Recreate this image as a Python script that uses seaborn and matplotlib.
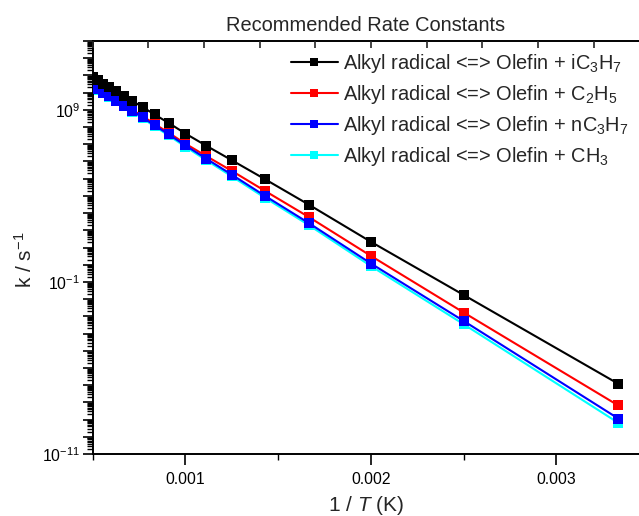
import numpy as np
import pandas as pd
import matplotlib
matplotlib.use("Agg")
import matplotlib.pyplot as plt
import matplotlib.ticker as mticker
import seaborn as sns

# ---- data ----
temperatures = [2000, 1900, 1800, 1700, 1600, 1500, 1400, 1300, 1200,
                1100, 1000, 900, 800, 700, 600, 500, 400, 300]
log_k_iC3H7 = [10.90, 10.71, 10.51, 10.30, 10.07, 9.81, 9.51, 9.16, 8.73,
               8.24, 7.62, 6.92, 6.07, 4.97, 3.48, 1.33, -1.76, -6.92]
log_k_C2H5 = [10.45, 10.25, 10.04, 9.82, 9.58, 9.31, 8.99, 8.63, 8.18,
              7.67, 7.03, 6.32, 5.45, 4.29, 2.76, 0.51, -2.78, -8.18]
log_k_nC3H7 = [10.41, 10.21, 10.00, 9.78, 9.53, 9.25, 8.93, 8.56, 8.10,
               7.58, 6.93, 6.17, 5.23, 4.00, 2.41, 0.07, -3.27, -8.94]
log_k_CH3 = [10.37, 10.17, 9.96, 9.74, 9.49, 9.20, 8.88, 8.50, 8.04,
             7.51, 6.85, 6.08, 5.13, 3.89, 2.29, -0.08, -3.46, -9.19]

labels = ["Alkyl radical <=> Olefin + iC$_3$H$_7$",
          "Alkyl radical <=> Olefin + C$_2$H$_5$",
          "Alkyl radical <=> Olefin + nC$_3$H$_7$",
          "Alkyl radical <=> Olefin + CH$_3$"]
colors = ["#000000", "#ff0000", "#0000ff", "#00ffff"]
series = [log_k_iC3H7, log_k_C2H5, log_k_nC3H7, log_k_CH3]
y_labelled_exponents = [9, -1, -11]
x_major_ticks = [0.001, 0.002, 0.003]
x_major_labels = ["0.001", "0.002", "0.003"]

# ---- style ----
sns.set_style("ticks")
plt.rcParams["font.family"] = ["Liberation Sans", "DejaVu Sans"]
plt.rcParams["mathtext.fontset"] = "custom"
plt.rcParams["mathtext.rm"] = "Liberation Sans"
plt.rcParams["mathtext.it"] = "Liberation Sans:italic"
plt.rcParams["mathtext.default"] = "regular"

fig = plt.figure(figsize=(6.39, 5.16), dpi=100)
ax = fig.add_axes([92.7 / 639, 62 / 516, 1 - 92.7 / 639, 413 / 516])

inv_T = 1.0 / np.array(temperatures, dtype=float)
frames = []
for lab, vals in zip(labels, series):
    frames.append(pd.DataFrame({"invT": inv_T, "k": 10.0 ** np.array(vals), "label": lab}))
df = pd.concat(frames, ignore_index=True)

draw_order = [3, 1, 0, 2]
zorders = {3: 2, 1: 3, 0: 5, 2: 4}
for i in draw_order:
    sub = df[df["label"] == labels[i]]
    sns.lineplot(data=sub, x="invT", y="k", ax=ax, color=colors[i],
                 marker="s", markersize=6.8, markeredgewidth=0,
                 linewidth=1.5, label=labels[i], zorder=zorders[i],
                 sort=False, legend=False)

ax.set_yscale("log")
ax.set_xlim(0.0005, 0.0005 + (639 - 92.7) / 185.5 * 0.001)
ax.set_ylim(1e-11, 1e13)

ax.xaxis.set_major_locator(mticker.FixedLocator(x_major_ticks))
ax.xaxis.set_major_formatter(mticker.FixedFormatter(x_major_labels))
ax.xaxis.set_minor_locator(mticker.FixedLocator([0.0005, 0.0015, 0.0025, 0.0035]))

ax.yaxis.set_major_locator(mticker.LogLocator(base=10, subs=(1.0,), numticks=40))
ax.yaxis.set_minor_locator(mticker.LogLocator(base=10, subs=np.arange(2, 10), numticks=40))


def yfmt(v, pos):
    e = int(round(np.log10(v)))
    if e in y_labelled_exponents:
        return r"$10^{%d}$" % e
    return ""


ax.yaxis.set_major_formatter(mticker.FuncFormatter(yfmt))
ax.yaxis.set_minor_formatter(mticker.NullFormatter())

ax.tick_params(axis="both", which="major", direction="out", length=7, width=1.2,
               labelsize=11.3, color="black", labelcolor="black")
ax.tick_params(axis="both", which="minor", direction="out", length=4.5, width=1.0,
               color="black")
ax.tick_params(axis="x", which="major", length=8, pad=5)
ax.tick_params(axis="y", which="major", pad=2)

for s in ["left", "bottom", "top"]:
    ax.spines[s].set_linewidth(1.4)
    ax.spines[s].set_color("black")
ax.spines["right"].set_visible(False)
ax.spines["top"].set_visible(True)

# top axis ticks (inward, no labels)
axt = ax.twiny()
axt.set_xlim(ax.get_xlim())
axt.set_xticks([0.0005 + 0.0003 * k for k in range(10)])
axt.tick_params(axis="x", direction="in", length=5, width=1.2, labeltop=False)
axt.xaxis.set_minor_locator(mticker.NullLocator())
for s in axt.spines.values():
    s.set_visible(False)

ax.set_xlabel("1 / $\\mathit{T}$ (K)", fontsize=15, labelpad=5)
ax.set_ylabel("k / s$^{-1}$", fontsize=15, labelpad=2)
ax.yaxis.set_label_coords(-0.104, 0.47)
ax.set_title("Recommended Rate Constants", fontsize=14.4, pad=7)

handles = [plt.Line2D([], [], color=c, marker="s", markersize=5.2,
                      markeredgewidth=0, linewidth=1.5) for c in colors]
leg = ax.legend(handles, labels, loc="upper right", bbox_to_anchor=(1.003, 1.003),
                frameon=False, fontsize=14.4, handlelength=2.35, handletextpad=0.25,
                labelspacing=0.4, borderaxespad=0.2)

fig.savefig("out.png", dpi=100)
